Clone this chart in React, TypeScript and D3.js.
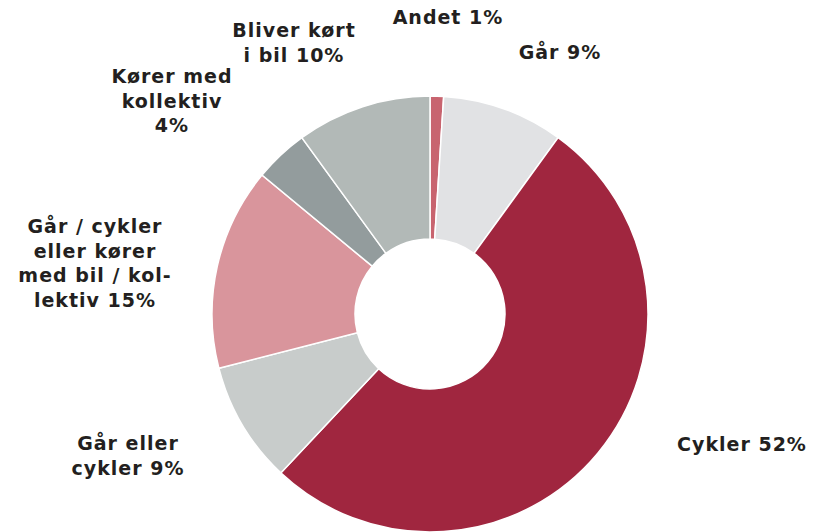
import React from "react";
import * as d3 from "d3";

const categories = [
  "Andet",
  "Går",
  "Cykler",
  "Går eller cykler",
  "Går / cykler eller kører med bil / kollektiv",
  "Kører med kollektiv",
  "Bliver kørt i bil",
];
const values = [1, 9, 52, 9, 15, 4, 10];
const colors = ["#c8646f", "#e1e2e4", "#a0263f", "#c8cccb", "#d9959c", "#939c9d", "#b2b9b7"];
const labelLines = [
  ["Andet 1%"],
  ["Går 9%"],
  ["Cykler 52%"],
  ["Går eller", "cykler 9%"],
  ["Går / cykler", "eller kører", "med bil / kol-", "lektiv 15%"],
  ["Kører med", "kollektiv", "4%"],
  ["Bliver kørt", "i bil 10%"],
];
// label anchor (center x, first baseline y) — layout
const labelPos = [
  [448, 24],
  [560, 59],
  [742, 451],
  [128, 450],
  [95, 233],
  [172, 83],
  [294, 37],
];

const W = 820;
const H = 532;
const cx = 430;
const cy = 314;
const outerR = 218;
const innerR = 75;

export default function App() {
  const pie = d3.pie<number>().sort(null).value((d) => d);
  const arcs = pie(values);
  const arc = d3.arc<d3.PieArcDatum<number>>().innerRadius(innerR).outerRadius(outerR);
  return (
    <svg
      width={W}
      height={H}
      style={{ position: "absolute", left: 0, top: 0, display: "block" }}
      fontFamily="'DejaVu Sans', Verdana, sans-serif"
    >
      <rect width={W} height={H} fill="#ffffff" />
      <g transform={`translate(${cx},${cy})`}>
        {arcs.map((a, i) => (
          <path key={categories[i]} d={arc(a) || ""} fill={colors[i]} stroke="#ffffff" strokeWidth={1.5} />
        ))}
      </g>
      {labelLines.map((lines, i) => (
        <text
          key={i}
          x={labelPos[i][0]}
          y={labelPos[i][1]}
          textAnchor="middle"
          fontSize={19}
          fontWeight="bold"
          letterSpacing={1}
          fill="#231f20"
        >
          {lines.map((l, j) => (
            <tspan key={j} x={labelPos[i][0]} dy={j === 0 ? 0 : 24.5}>
              {l}
            </tspan>
          ))}
        </text>
      ))}
    </svg>
  );
}
